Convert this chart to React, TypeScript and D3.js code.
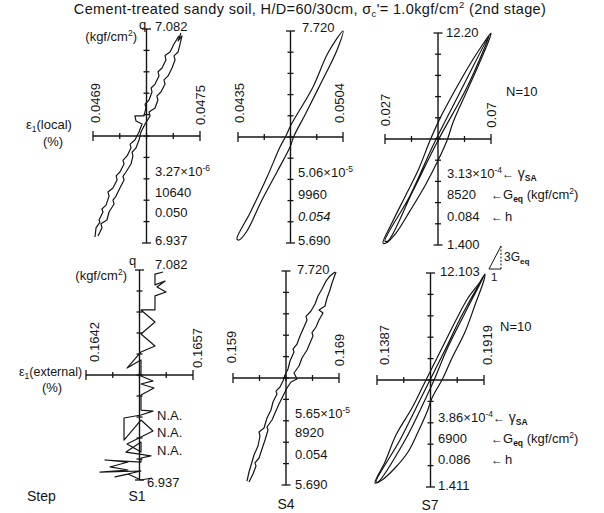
import React from 'react';
import * as d3 from 'd3';

type Pt = [number, number]; // [eps1 (%), q (kgf/cm2)]

const steps = ['S1', 'S4', 'S7'];

// axis end values of each panel (strain left/right, q bottom/top)
const localStrainEnds: Pt[] = [[0.0469, 0.0475], [0.0435, 0.0504], [0.027, 0.07]];
const localStrainLabels = [['0.0469', '0.0475'], ['0.0435', '0.0504'], ['0.027', '0.07']];
const localQEnds: Pt[] = [[6.937, 7.082], [5.69, 7.72], [1.4, 12.2]];
const localQLabels = [['6.937', '7.082'], ['5.690', '7.720'], ['1.400', '12.20']];

const externalStrainEnds: Pt[] = [[0.1642, 0.1657], [0.159, 0.169], [0.1387, 0.1919]];
const externalStrainLabels = [['0.1642', '0.1657'], ['0.159', '0.169'], ['0.1387', '0.1919']];
const externalQEnds: Pt[] = [[6.937, 7.082], [5.69, 7.72], [1.411, 12.103]];
const externalQLabels = [['6.937', '7.082'], ['5.690', '7.720'], ['1.411', '12.103']];

// gamma_SA, G_eq, h
const localGammaSA = [['3.27', '-6'], ['5.06', '-5'], ['3.13', '-4']];
const localGeq = ['10640', '9960', '8520'];
const localH = ['0.050', '0.054', '0.084'];
const externalGammaSA = [null, ['5.65', '-5'], ['3.86', '-4']];
const externalGeq = ['N.A.', '8920', '6900'];
const externalH = ['N.A.', '0.054', '0.086'];

// ---- local strain loops ----
const s1LocalA: Pt[] = [
  [0.046911, 6.9411], [0.046917, 6.9472], [0.046939, 6.9512], [0.046934, 6.9526],
  [0.046956, 6.958], [0.04695, 6.96], [0.046973, 6.9627], [0.04699, 6.9688],
  [0.046984, 6.9715], [0.047012, 6.9743], [0.047035, 6.9797], [0.04703, 6.9825],
  [0.047051, 6.9851], [0.047074, 6.9905], [0.047068, 6.993], [0.047091, 6.996],
  [0.047113, 7.0014], [0.047108, 7.004], [0.047135, 7.0068], [0.047158, 7.0122],
  [0.047175, 7.0176], [0.047141, 7.0197], [0.047135, 7.0231], [0.047186, 7.0231],
  [0.047197, 7.0285], [0.047192, 7.031], [0.047214, 7.0339], [0.047231, 7.0393],
  [0.047226, 7.042], [0.047248, 7.0447], [0.04727, 7.0502], [0.047265, 7.053],
  [0.047287, 7.0556], [0.047309, 7.061], [0.047304, 7.064], [0.047332, 7.0664],
  [0.047354, 7.0718], [0.047382, 7.0773],
];
const s1LocalB: Pt[] = [
  [0.046928, 6.9417], [0.04695, 6.9472], [0.046945, 6.95], [0.046978, 6.9526],
  [0.04699, 6.958], [0.047018, 6.9634], [0.047012, 6.966], [0.047029, 6.9688],
  [0.047051, 6.9743], [0.047074, 6.9797], [0.047068, 6.9822], [0.047085, 6.9851],
  [0.047113, 6.9905], [0.047124, 6.996], [0.047119, 6.9985], [0.047141, 7.0014],
  [0.047158, 7.0068], [0.047169, 7.0122], [0.047192, 7.0176], [0.04722, 7.0231],
  [0.047214, 7.0258], [0.047248, 7.0285], [0.047264, 7.0339], [0.047258, 7.0365],
  [0.047281, 7.0393], [0.047304, 7.0447], [0.047298, 7.0475], [0.047321, 7.0502],
  [0.047343, 7.0556], [0.04736, 7.061], [0.047354, 7.0638], [0.047377, 7.0664],
  [0.047388, 7.0718], [0.047399, 7.0773], [0.047377, 7.0739], [0.047393, 7.0793],
];
const s4LocalLoop: Pt[] = [
  [0.04343, 5.728], [0.04429, 5.977], [0.04541, 6.322], [0.04626, 6.609],
  [0.04665, 6.715], [0.04698, 6.82], [0.04843, 7.184], [0.04941, 7.509],
  [0.0504, 7.72], [0.05001, 7.538], [0.04889, 7.203], [0.0479, 6.916],
  [0.04718, 6.715], [0.04692, 6.609], [0.04606, 6.37], [0.04501, 6.083],
  [0.04409, 5.805], [0.04357, 5.719],
];
const s7LocalOuter: Pt[] = [
  [0.02619, 1.5], [0.02984, 2.53], [0.03511, 3.86], [0.04039, 5.19],
  [0.04526, 6.72], [0.04931, 7.85], [0.0554, 9.28], [0.06148, 10.61],
  [0.06676, 11.64], [0.07, 12.2], [0.06919, 11.84], [0.06473, 10.51],
  [0.05946, 9.03], [0.05459, 7.64], [0.05215, 6.72], [0.0485, 5.7],
  [0.04323, 4.42], [0.03714, 3.14], [0.03146, 2.01], [0.02741, 1.5],
];
const s7LocalInner: Pt[] = [
  [0.027, 1.6], [0.03714, 3.91], [0.04688, 6.57], [0.05743, 9.18],
  [0.06919, 12.05], [0.06067, 9.54], [0.0485, 6.72], [0.03836, 4.16],
  [0.02822, 1.6],
];

// ---- external strain loops ----
const s1External: Pt[] = [
  [0.16528, 7.0806], [0.165167, 7.0792], [0.165167, 7.0717], [0.165308, 7.0744],
  [0.165195, 7.0703], [0.165322, 7.0668], [0.165167, 7.0641], [0.165167, 7.0544],
  [0.164971, 7.0544], [0.165167, 7.0461], [0.164971, 7.0378], [0.165167, 7.0295],
  [0.164971, 7.0254], [0.164775, 7.0143], [0.164971, 7.0199], [0.164971, 7.0088],
  [0.165139, 7.0054], [0.164971, 7.0033], [0.165153, 7.0005], [0.164971, 6.9957],
  [0.164971, 6.9853], [0.165139, 6.9846], [0.164971, 6.9819], [0.164733, 6.9798],
  [0.164733, 6.9646], [0.164971, 6.9784], [0.165139, 6.9708], [0.164971, 6.9667],
  [0.164775, 6.9619], [0.164971, 6.9563], [0.164971, 6.9632], [0.164761, 6.9563],
  [0.165111, 6.9536], [0.164971, 6.9522], [0.164971, 6.9494], [0.164466, 6.9508],
  [0.164789, 6.9494], [0.164536, 6.946], [0.164789, 6.9439], [0.164396, 6.9425],
  [0.164971, 6.9432], [0.164607, 6.9391], [0.164789, 6.9411], [0.164971, 6.937],
  [0.165125, 6.9384],
];
const s4ExternalA: Pt[] = [
  [0.160321, 5.7279], [0.160509, 5.8133], [0.160792, 5.9082], [0.160981, 5.9746],
  [0.161359, 6.06], [0.161547, 6.1548], [0.161453, 6.1928], [0.161925, 6.2307],
  [0.162208, 6.3256], [0.162585, 6.4015], [0.162774, 6.4773], [0.163151, 6.5532],
  [0.163057, 6.58], [0.163434, 6.6196], [0.163717, 6.6765], [0.163906, 6.7335],
  [0.164189, 6.7904], [0.164377, 6.8663], [0.164755, 6.9516], [0.16466, 6.98],
  [0.165038, 7.0275], [0.165321, 7.1034], [0.165698, 7.1888], [0.165981, 7.2552],
  [0.165887, 7.29], [0.166359, 7.3406], [0.166736, 7.407], [0.167019, 7.4829],
  [0.167396, 7.5493], [0.167774, 7.6251], [0.168151, 7.6726], [0.168623, 7.7105],
];
const s4ExternalB: Pt[] = [
  [0.160509, 5.7185], [0.160887, 5.7943], [0.16117, 5.8702], [0.161076, 5.9],
  [0.161453, 5.9461], [0.161736, 6.0315], [0.162019, 6.1169], [0.162302, 6.2117],
  [0.162208, 6.24], [0.162679, 6.3066], [0.162962, 6.373], [0.16334, 6.4584],
  [0.163717, 6.5343], [0.164094, 6.6101], [0.164472, 6.6671], [0.165038, 6.6955],
  [0.164755, 6.7524], [0.165226, 6.8188], [0.165509, 6.8947], [0.165981, 6.9706],
  [0.166264, 7.037], [0.166547, 7.1034], [0.166453, 7.135], [0.16683, 7.1888],
  [0.167113, 7.2552], [0.167491, 7.3216], [0.167113, 7.35], [0.167679, 7.388],
  [0.167868, 7.4639], [0.168151, 7.5398], [0.16834, 7.6062], [0.168717, 7.7105],
];
const s7ExternalOuter: Pt[] = [
  [0.137706, 1.611], [0.142678, 2.66], [0.148141, 4.009], [0.156102, 5.358],
  [0.161074, 6.357], [0.16356, 6.857], [0.166046, 7.356], [0.171018, 8.355],
  [0.177482, 9.654], [0.183945, 10.853], [0.189912, 11.653], [0.192398, 12.052],
  [0.1919, 11.753], [0.187426, 10.504], [0.182454, 9.155], [0.17599, 7.856],
  [0.171515, 6.857], [0.166046, 5.857], [0.16356, 5.158], [0.159085, 4.159],
  [0.154113, 3.16], [0.14765, 2.36], [0.141186, 1.761],
];
const s7ExternalInner: Pt[] = [
  [0.138203, 1.661], [0.150136, 3.759], [0.16008, 5.758], [0.165549, 6.857],
  [0.17251, 8.256], [0.180962, 10.004], [0.1919, 11.952], [0.182454, 10.104],
  [0.173301, 8.256], [0.167538, 6.857], [0.162068, 5.658], [0.152124, 3.659],
  [0.139197, 1.661],
];
// 3Geq : 1 slope triangle on S7 (external)
const slopeTriangle: Pt[] = [[0.19439, 12.302], [0.20035, 12.302], [0.20035, 13.451]];

type Curve = { pts: Pt[]; closed: boolean };
const localCurves: Curve[][] = [
  [{ pts: s1LocalA, closed: false }, { pts: s1LocalB, closed: false }],
  [{ pts: s4LocalLoop, closed: true }],
  [{ pts: s7LocalOuter, closed: true }, { pts: s7LocalInner, closed: true }],
];
const externalCurves: Curve[][] = [
  [{ pts: s1External, closed: false }],
  [{ pts: s4ExternalA, closed: false }, { pts: s4ExternalB, closed: false }],
  [{ pts: s7ExternalOuter, closed: true }, { pts: s7ExternalInner, closed: true }],
];

// pixel frames and label anchors
const topFrames = [
  { x0: 93, x1: 200, y0: 29, y1: 243, qTop: [155, 31], qBot: [155, 245], eL: [100, 103], eR: [205, 105], st: [155, 176, 197, 217] },
  { x0: 238, x1: 343, y0: 31, y1: 243, qTop: [302, 32], qBot: [298, 245], eL: [244, 103], eR: [344, 103], st: [298, 177, 199, 221] },
  { x0: 385, x1: 491, y0: 33, y1: 245, qTop: [446, 37], qBot: [447, 249], eL: [390, 110], eR: [496, 115], st: [447, 178, 199, 221] },
];
const bottomFrames = [
  { x0: 86, x1: 193, y0: 270, y1: 480, qTop: [155, 269], qBot: [147, 487], eL: [99, 342], eR: [202, 348], st: [157, 420, 437, 455] },
  { x0: 233, x1: 339, y0: 271, y1: 485, qTop: [297, 274], qBot: [295, 489], eL: [236, 347], eR: [344, 350], st: [295, 418, 437, 459] },
  { x0: 377, x1: 484, y0: 273, y1: 487, qTop: [440, 276], qBot: [438, 490], eL: [389, 345], eR: [492, 345], st: [438, 422, 443, 464] },
];

const INK = '#151515';
const FS = 13;

function Sup({ t }: { t: string }) {
  return <tspan dy={-5} fontSize={8.5}>{t}</tspan>;
}

function Panel(props: any) {
  const { f, eEnds, qEnds, eLab, qLab, curves, gamma, geq, h, col, extra } = props;
  const xs = d3.scaleLinear().domain(eEnds).range([f.x0, f.x1]);
  const ys = d3.scaleLinear().domain(qEnds).range([f.y1, f.y0]);
  const ax = xs((eEnds[0] + eEnds[1]) / 2);
  const ay = ys((qEnds[0] + qEnds[1]) / 2);
  const xTicks = d3.range(5).map(i => eEnds[0] + (i * (eEnds[1] - eEnds[0])) / 4);
  const yTicks = d3.range(11).map(i => qEnds[0] + (i * (qEnds[1] - qEnds[0])) / 10);
  const open = d3.line<Pt>().x(d => xs(d[0])).y(d => ys(d[1]));
  const loop = d3.line<Pt>().x(d => xs(d[0])).y(d => ys(d[1])).curve(d3.curveCatmullRomClosed.alpha(0.5));
  const [sx, r1, r2, r3] = f.st;

  return (
    <g>
      {/* axes */}
      <line x1={f.x0} x2={f.x1} y1={ay} y2={ay} stroke={INK} strokeWidth={1.4} />
      <line x1={ax} x2={ax} y1={f.y0} y2={f.y1} stroke={INK} strokeWidth={1.4} />
      {xTicks.map((t, i) => {
        const len = i === 0 || i === 4 ? 5 : 3;
        return <line key={'x' + i} x1={xs(t)} x2={xs(t)} y1={ay - len} y2={ay + len} stroke={INK} strokeWidth={1.3} />;
      })}
      {yTicks.map((t, i) => {
        const len = i === 0 || i === 10 ? 4.5 : 3;
        return <line key={'y' + i} x1={ax - len} x2={ax + len} y1={ys(t)} y2={ys(t)} stroke={INK} strokeWidth={1.3} />;
      })}
      {/* curves */}
      {curves.map((c: Curve, i: number) => (
        <path key={'c' + i} d={(c.closed ? loop : open)(c.pts) || ''} fill="none" stroke={INK}
          strokeWidth={1.2} strokeLinejoin="round" />
      ))}
      {/* strain end labels */}
      <text transform={`translate(${f.eL[0]},${f.eL[1]}) rotate(-90)`} textAnchor="middle" fontSize={FS}>{eLab[0]}</text>
      <text transform={`translate(${f.eR[0]},${f.eR[1]}) rotate(-90)`} textAnchor="middle" fontSize={FS}>{eLab[1]}</text>
      {/* q end labels */}
      <text x={f.qTop[0]} y={f.qTop[1]} fontSize={FS}>{qLab[1]}</text>
      <text x={f.qBot[0]} y={f.qBot[1]} fontSize={FS}>{qLab[0]}</text>
      {/* stats */}
      <text x={sx} y={r1} fontSize={FS}>
        {gamma ? <>{gamma[0]}×10<Sup t={gamma[1]} /></> : 'N.A.'}
        {col === 2 && (
          <>
            <tspan dy={5} fontSize={12}>←</tspan>
            <tspan fontSize={14}> γ</tspan>
            <tspan dy={3} fontSize={8.5} fontWeight="bold">SA</tspan>
          </>
        )}
      </text>
      <text x={sx} y={r2} fontSize={FS}>{geq}</text>
      <text x={sx} y={r3} fontSize={FS} fontStyle={col === 1 && extra === 'top' ? 'italic' : 'normal'}>{h}</text>
      {col === 2 && (
        <g fontSize={FS}>
          <text x={491} y={r2} fontSize={12}>←</text>
          <text x={503} y={r2}>
            G<tspan dy={3} fontSize={8.5} fontWeight="bold">eq</tspan>
            <tspan dy={-3}> (kgf/cm</tspan><tspan dy={-5} fontSize={8.5}>2</tspan><tspan dy={5}>)</tspan>
          </text>
          <text x={491} y={r3} fontSize={12}>←</text>
          <text x={505} y={r3}>h</text>
        </g>
      )}
      {col === 2 && extra === 'bottom' && (
        <g>
          <line x1={xs(slopeTriangle[0][0])} y1={ys(slopeTriangle[0][1])} x2={xs(slopeTriangle[1][0])} y2={ys(slopeTriangle[1][1])} stroke={INK} strokeWidth={1} />
          <line x1={xs(slopeTriangle[1][0])} y1={ys(slopeTriangle[1][1])} x2={xs(slopeTriangle[2][0])} y2={ys(slopeTriangle[2][1])} stroke={INK} strokeWidth={1} strokeDasharray="2,1.5" />
          <line x1={xs(slopeTriangle[0][0])} y1={ys(slopeTriangle[0][1])} x2={xs(slopeTriangle[2][0])} y2={ys(slopeTriangle[2][1])} stroke={INK} strokeWidth={1} />
          <text x={xs(slopeTriangle[2][0]) + 3} y={ys(slopeTriangle[2][1]) + 15} fontSize={12}>
            3G<tspan dy={3} fontSize={8} fontWeight="bold">eq</tspan>
          </text>
          <text x={xs(slopeTriangle[0][0]) + 2} y={ys(slopeTriangle[0][1]) + 12} fontSize={11.5}>1</text>
        </g>
      )}
    </g>
  );
}

export default function App() {
  return (
    <div style={{ position: 'absolute', left: 0, top: 0 }}>
      <svg width={604} height={513} style={{ display: 'block', background: '#fff' }}
        fontFamily="'Liberation Sans', Arial, Helvetica, sans-serif" fill={INK}>
        <text x={310} y={14} fontSize={14.5} letterSpacing={0.35} textAnchor="middle">
          Cement-treated sandy soil, H/D=60/30cm,  σ<tspan dy={3} fontSize={9.5}>c</tspan>
          <tspan dy={-3}>'= 1.0kgf/cm</tspan><tspan dy={-6} fontSize={9.5}>2</tspan>
          <tspan dy={6}> (2nd stage)</tspan>
        </text>

        {/* q unit labels */}
        <text x={139} y={29} fontSize={FS}>q</text>
        <text x={137} y={41} fontSize={FS} textAnchor="end">(kgf/cm<Sup t="2" /><tspan dy={5}>)</tspan></text>
        <text x={129} y={265} fontSize={FS}>q</text>
        <text x={127} y={280} fontSize={FS} textAnchor="end">(kgf/cm<Sup t="2" /><tspan dy={5}>)</tspan></text>

        {/* strain axis names */}
        <text x={26} y={129} fontSize={FS}>ε<tspan dy={3} fontSize={8.5}>1</tspan><tspan dy={-3}>(local)</tspan></text>
        <text x={53} y={146} fontSize={FS} textAnchor="middle">(%)</text>
        <text x={19} y={376} fontSize={12.5}>ε<tspan dy={3} fontSize={8.5}>1</tspan><tspan dy={-3}>(external)</tspan></text>
        <text x={52} y={392} fontSize={FS} textAnchor="middle">(%)</text>

        <text x={506} y={96} fontSize={FS}>N=10</text>
        <text x={500} y={331} fontSize={FS}>N=10</text>

        {steps.map((s, i) => (
          <Panel key={'t' + s} f={topFrames[i]} eEnds={localStrainEnds[i]} qEnds={localQEnds[i]}
            eLab={localStrainLabels[i]} qLab={localQLabels[i]} curves={localCurves[i]}
            gamma={localGammaSA[i]} geq={localGeq[i]} h={localH[i]} col={i} extra="top" />
        ))}
        {steps.map((s, i) => (
          <Panel key={'b' + s} f={bottomFrames[i]} eEnds={externalStrainEnds[i]} qEnds={externalQEnds[i]}
            eLab={externalStrainLabels[i]} qLab={externalQLabels[i]} curves={externalCurves[i]}
            gamma={externalGammaSA[i]} geq={externalGeq[i]} h={externalH[i]} col={i} extra="bottom" />
        ))}

        {/* step row */}
        <text x={27} y={501} fontSize={14}>Step</text>
        <text x={137} y={501} fontSize={14} textAnchor="middle">{steps[0]}</text>
        <text x={286} y={509} fontSize={14} textAnchor="middle">{steps[1]}</text>
        <text x={430} y={510} fontSize={14} textAnchor="middle">{steps[2]}</text>
      </svg>
    </div>
  );
}
